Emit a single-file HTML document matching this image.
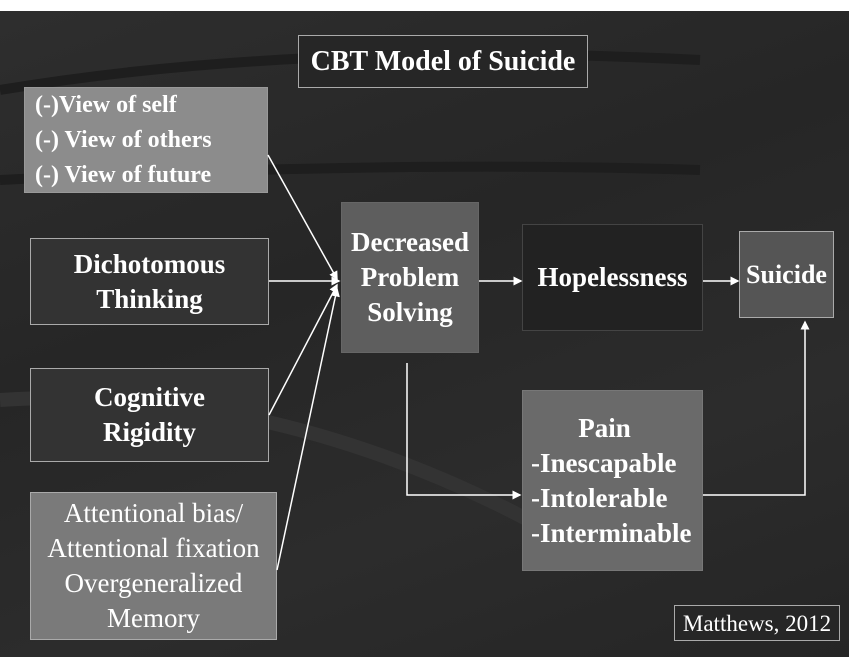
<!DOCTYPE html>
<html><head><style>
body{margin:0;width:849px;height:659px;overflow:hidden;background:#fff;font-family:"Liberation Serif",serif;}
#bg{position:absolute;left:0;top:11px;width:849px;height:646px;background:linear-gradient(160deg,#2e2e2e 0%,#262626 40%,#2c2c2c 70%,#252525 100%);}
.b{position:absolute;box-sizing:border-box;border:1.5px solid #aaa;color:#fff;display:flex;align-items:center;justify-content:center;text-align:center;font-weight:bold;font-size:27px;line-height:35px;white-space:nowrap;}
</style></head><body>
<div id="bg"></div>
<svg style="position:absolute;left:0;top:0" width="849" height="659">
<path d="M0 90 Q300 40 700 60" stroke="#1e1e1e" stroke-width="10" fill="none"/>
<path d="M0 180 Q400 160 700 170" stroke="#1e1e1e" stroke-width="10" fill="none"/>
<path d="M0 400 Q300 380 600 560" stroke="#333" stroke-width="14" fill="none"/>
</svg>
<div class="b" style="left:298px;top:35px;width:290px;height:53px;font-size:28px;background:#262626">CBT Model of Suicide</div>
<div class="b" style="left:24px;top:87px;width:244px;height:106px;background:#8c8c8c;border-color:#999;justify-content:flex-start;text-align:left;padding-left:10px;font-size:24px">(-)View of self<br>(-) View of others<br>(-) View of future</div>
<div class="b" style="left:30px;top:238px;width:239px;height:87px;background:#333">Dichotomous<br>Thinking</div>
<div class="b" style="left:30px;top:368px;width:239px;height:94px;background:#333">Cognitive<br>Rigidity</div>
<div class="b" style="left:30px;top:492px;width:247px;height:148px;background:#7a7a7a;font-weight:normal;line-height:35px;font-size:27px">Attentional bias/<br>Attentional fixation<br>Overgeneralized<br>Memory</div>
<div class="b" style="left:341px;top:202px;width:138px;height:151px;background:#5e5e5e;border-color:#666">Decreased<br>Problem<br>Solving</div>
<div class="b" style="left:522px;top:224px;width:181px;height:107px;background:#222;border-color:#444">Hopelessness</div>
<div class="b" style="left:739px;top:231px;width:95px;height:87px;background:#555;font-size:26px">Suicide</div>
<div class="b" style="left:522px;top:390px;width:181px;height:181px;background:#6a6a6a;border-color:#777;justify-content:flex-start;padding-left:8px"><div style="text-align:left">&nbsp;&nbsp;&nbsp;&nbsp;&nbsp;&nbsp;&nbsp;Pain<br>-Inescapable<br>-Intolerable<br>-Interminable</div></div>
<div class="b" style="left:674px;top:605px;width:166px;height:36px;background:#262626;font-weight:normal;font-size:23px">Matthews, 2012</div>
<svg style="position:absolute;left:0;top:0" width="849" height="659">
<defs><marker id="a" markerWidth="6" markerHeight="6" refX="5" refY="3" orient="auto"><path d="M0 0L6 3L0 6z" fill="#fff"/></marker></defs>
<g stroke="#fff" stroke-width="1.5" fill="none" marker-end="url(#a)">
<line x1="268" y1="155" x2="337" y2="279"/>
<line x1="269" y1="281" x2="339" y2="281"/>
<line x1="269" y1="415" x2="337" y2="285"/>
<line x1="277" y1="570" x2="337" y2="289"/>
<line x1="479" y1="281" x2="521" y2="281"/>
<line x1="703" y1="281" x2="738" y2="281"/>
<polyline points="407,363 407,495 520,495"/>
<polyline points="703,495 805,495 805,322"/>
</g>
</svg>
</body></html>
